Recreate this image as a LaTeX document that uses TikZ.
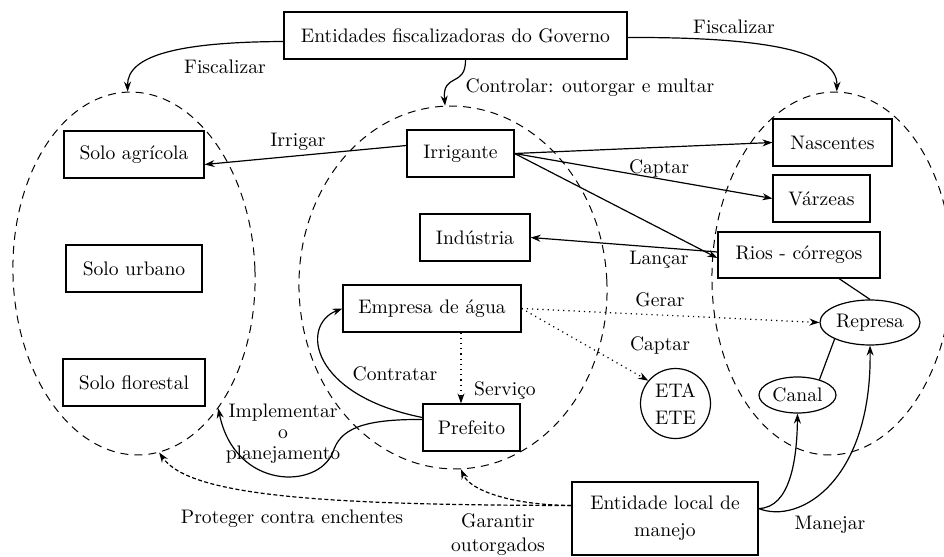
\documentclass[tikz,border=0pt]{standalone}
\usetikzlibrary{shapes.geometric,arrows.meta}
\begin{document}
\begin{tikzpicture}[x=0.5pt,y=-0.5pt,
  every node/.style={font=\rmfamily\fontsize{9.8}{13.5}\selectfont},
  box/.style={draw,line width=0.6pt,minimum height=23.5pt,inner sep=2pt},
  grp/.style={draw,ellipse,dash pattern=on 4pt off 3pt,line width=0.5pt,inner sep=0pt},
  arr/.style={line width=0.6pt,-{Stealth[length=5pt,width=3.5pt]}},
  dashedarr/.style={arr,dash pattern=on 2pt off 1.2pt},
  dottedarr/.style={arr,dotted},
  lbl/.style={inner sep=1pt}]
\clip (0,0) rectangle (944,557);
% groups
\node[grp,minimum width=121pt,minimum height=181.5pt,rotate=2] (L) at (134,273.5) {};
\node[grp,minimum width=154pt,minimum height=181.5pt,rotate=2.5] (M) at (453,287.5) {};
\node[grp,minimum width=120pt,minimum height=181.5pt,rotate=-1.5] (R) at (832,273.5) {};
% boxes
\node[box,minimum width=171.5pt] (gov) at (455.5,35.5) {Entidades fiscalizadoras do Governo};
\node[box,minimum width=70pt] (agr) at (134,154.5) {Solo agrícola};
\node[box,minimum width=68pt] (urb) at (134,268.5) {Solo urbano};
\node[box,minimum width=71pt] (flo) at (134,382.5) {Solo florestal};
\node[box,minimum width=53.5pt] (irr) at (460.5,153.5) {Irrigante};
\node[box,minimum width=55pt] (ind) at (475,237.5) {Indústria};
\node[box,minimum width=89pt] (emp) at (432,308.5) {Empresa de água};
\node[box,minimum width=48.5pt] (pre) at (471.5,427.5) {Prefeito};
\node[box,minimum width=59.5pt] (nas) at (832.5,142.5) {Nascentes};
\node[box,minimum width=48.5pt] (var) at (821.5,198.5) {Várzeas};
\node[box,minimum width=81pt,minimum height=23pt] (rio) at (799,255) {Rios - córregos};
\node[box,minimum width=93pt,minimum height=36.5pt,align=center] (ent) at (665,518.5) {Entidade local de\\manejo};
\node[draw,circle,line width=0.6pt,minimum size=35pt,inner sep=0pt,align=center] (eta) at (675.5,403.5) {ETA\\ETE};
\node[draw,ellipse,line width=0.6pt,minimum width=50pt,minimum height=22.5pt,inner sep=0pt] (rep) at (870,322.5) {Represa};
\node[draw,ellipse,line width=0.6pt,minimum width=38.5pt,minimum height=18pt,inner sep=0pt] (can) at (797.5,395) {Canal};
% labels
\node[lbl] (t1) at (225,67) {Fiscalizar};
\node[lbl] (t2) at (590,88) {Controlar: outorgar e multar};
\node[lbl] (t3) at (734,27) {Fiscalizar};
\node[lbl] (t4) at (298,142) {Irrigar};
\node[lbl] (t5) at (659,168) {Captar};
\node[lbl] (t6) at (659,260) {Lançar};
\node[lbl] (t7) at (660,300) {Gerar};
\node[lbl] (t8) at (660,345) {Captar};
\node[lbl] (t9) at (505,391) {Serviço};
\node[lbl] (t10) at (395,374) {Contratar};
\node[lbl,align=center,font=\rmfamily\fontsize{9.8}{10.5}\selectfont] (t11) at (283,434) {Implementar\\o\\planejamento};
\node[lbl] (t12) at (292,519) {Proteger contra enchentes};
\node[lbl,align=center,font=\rmfamily\fontsize{9.8}{12}\selectfont] (t13) at (498,535) {Garantir\\outorgados};
\node[lbl] (t14) at (830,525) {Manejar};
% connectors
\draw[arr] ([yshift=-3pt]gov.west) .. controls (180,42) and (127,55) .. (L.north);
\draw[arr] ([xshift=5pt]gov.south) .. controls (466,88) and (442,72) .. (M.north);
\draw[arr] ([yshift=-1pt]gov.east) .. controls (760,37) and (838,50) .. (R.north);
\draw[arr] ([yshift=4pt]irr.west) -- ([yshift=-5pt]agr.east);
\draw[arr] (irr.east) -- (nas.west);
\draw[arr] (irr.east) -- (var.west);
\draw[arr] (irr.east) -- ([yshift=-1.5pt]rio.west);
\draw[arr] ([yshift=1.5pt]rio.west) -- (ind.east);
\draw[line width=0.6pt] ([xshift=20pt]rio.south) -- (rep.north);
\draw[line width=0.6pt] (can.35) -- (rep.205);
\draw[arr] ([yshift=5pt]ent.east) .. controls (790,508) and (797,460) .. (can.south);
\draw[arr] ([yshift=5pt]ent.east) .. controls (800,525) and (872,480) .. (rep.south);
\draw[dottedarr] (emp.east) -- (rep.west);
\draw[dottedarr] (emp.east) -- (eta.140);
\draw[dottedarr] ([xshift=14.5pt]emp.south) -- ([xshift=14.5pt]emp.south |- pre.north);
\draw[arr] ([yshift=5pt]pre.west) .. controls (310,395) and (300,325) .. (emp.west);
\draw[arr] ([yshift=4pt]pre.west) .. controls (360,419) and (340,430) .. (333,452) .. controls (318,490) and (235,490) .. (L.-60);
\draw[dashedarr] ([yshift=6.5pt]ent.west) .. controls (510,505) and (470,490) .. (M.south);
\draw[dashedarr] ([yshift=6.5pt]ent.west) .. controls (330,505) and (190,497) .. (L.-84);
\end{tikzpicture}
\end{document}
